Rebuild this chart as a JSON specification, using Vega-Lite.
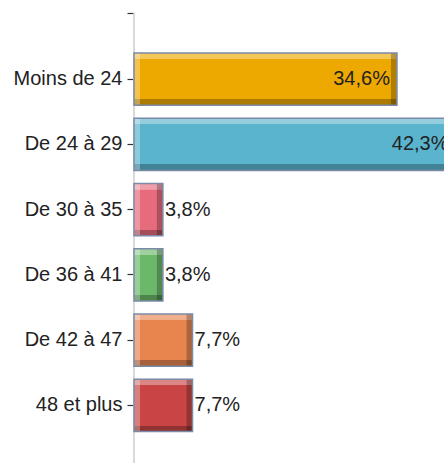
{
  "$schema": "https://vega.github.io/schema/vega-lite/v6.json",
  "width": 310,
  "height": 463,
  "autosize": {"type": "none"},
  "padding": {"left": 134, "top": 0, "right": 0, "bottom": 0},
  "background": "white",
  "config": {
    "view": {"stroke": null},
    "font": "Liberation Sans",
    "axis": {"labelFont": "Liberation Sans"}
  },
  "data": {
    "values": [
      {"cat": "Moins de 24", "pct": 34.6, "label": "34,6%"},
      {"cat": "De 24 à 29", "pct": 42.3, "label": "42,3%"},
      {"cat": "De 30 à 35", "pct": 3.8, "label": "3,8%"},
      {"cat": "De 36 à 41", "pct": 3.8, "label": "3,8%"},
      {"cat": "De 42 à 47", "pct": 7.7, "label": "7,7%"},
      {"cat": "48 et plus", "pct": 7.7, "label": "7,7%"}
    ]
  },
  "encoding": {
    "y": {
      "field": "cat",
      "type": "nominal",
      "sort": null,
      "scale": {
        "domain": [" ", "Moins de 24", "De 24 à 29", "De 30 à 35", "De 36 à 41", "De 42 à 47", "48 et plus", "  "],
        "range": [-12.4, 496.9],
        "paddingInner": 0.2,
        "paddingOuter": 0
      },
      "axis": {
        "title": null,
        "domain": false,
        "labelFontSize": 20,
        "labelColor": "#222222",
        "labelPadding": 5,
        "tickSize": 7,
        "tickColor": "#333333",
        "tickWidth": 1.2,
        "grid": false
      }
    },
    "x": {
      "field": "pct",
      "type": "quantitative",
      "scale": {"domain": [0, 40.79], "nice": false, "zero": true},
      "axis": null
    }
  },
  "layer": [
    {
      "mark": {"type": "rule", "color": "#dadada", "strokeWidth": 2},
      "encoding": {
        "x": {"datum": 0, "type": "quantitative"},
        "y": {"datum": " ", "type": "nominal"},
        "y2": {"datum": "  "}
      }
    },
    {
      "mark": {"type": "bar"},
      "encoding": {
        "color": {
          "field": "cat",
          "type": "nominal",
          "legend": null,
          "scale": {
            "domain": ["Moins de 24", "De 24 à 29", "De 30 à 35", "De 36 à 41", "De 42 à 47", "48 et plus"],
            "range": ["#eea900", "#5ab4ce", "#e66b7c", "#6bb86b", "#e8854f", "#c94545"]
          }
        }
      }
    },
    {
      "mark": {
        "type": "bar",
        "fill": {
          "gradient": "linear",
          "x1": 0, "y1": 0, "x2": 0, "y2": 1,
          "stops": [
            {"offset": 0, "color": "rgba(255,255,255,0.35)"},
            {"offset": 0.115, "color": "rgba(255,255,255,0.35)"},
            {"offset": 0.116, "color": "rgba(255,255,255,0)"},
            {"offset": 0.884, "color": "rgba(0,0,0,0)"},
            {"offset": 0.885, "color": "rgba(0,0,0,0.28)"},
            {"offset": 1, "color": "rgba(0,0,0,0.28)"}
          ]
        }
      }
    },
    {
      "mark": {"type": "bar", "fill": "white", "fillOpacity": 0.3, "x2Offset": 6},
      "encoding": {
        "x": {"datum": 0, "type": "quantitative"},
        "x2": {"datum": 0}
      }
    },
    {
      "mark": {"type": "bar", "fill": "black", "fillOpacity": 0.25, "xOffset": -6},
      "encoding": {
        "x2": {"field": "pct"}
      }
    },
    {
      "mark": {"type": "bar", "fill": "transparent", "stroke": "#7b8aa6", "strokeWidth": 1.5}
    },
    {
      "transform": [{"filter": "datum.pct > 20"}],
      "mark": {"type": "text", "align": "right", "baseline": "middle", "dx": -7, "fontSize": 20, "font": "Liberation Sans", "color": "#222222"},
      "encoding": {"text": {"field": "label"}}
    },
    {
      "transform": [{"filter": "datum.pct <= 20"}],
      "mark": {"type": "text", "align": "left", "baseline": "middle", "dx": 2, "fontSize": 20, "font": "Liberation Sans", "color": "#222222"},
      "encoding": {"text": {"field": "label"}}
    }
  ]
}
